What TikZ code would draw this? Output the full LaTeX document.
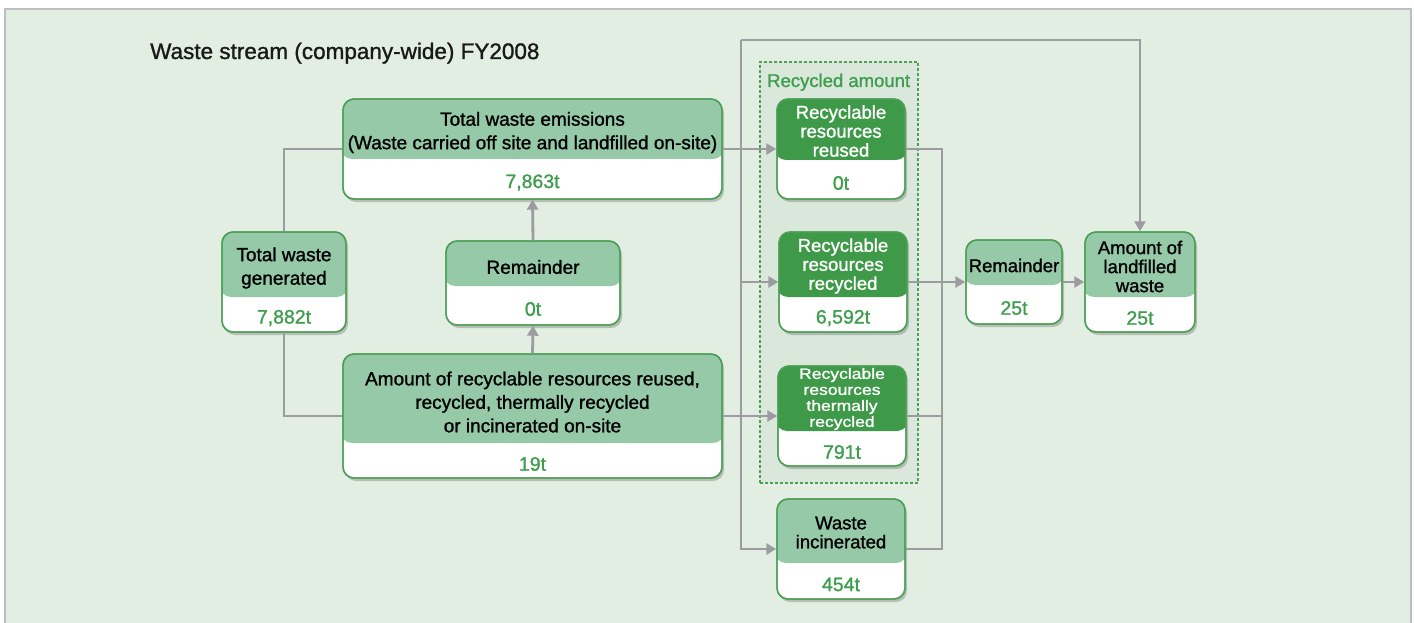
\documentclass[tikz,border=0pt]{standalone}
\usepackage{fontspec}
\setmainfont{Liberation Sans}[FakeBold=1.2]
\usetikzlibrary{shadows,arrows.meta,calc}
\definecolor{panelc}{HTML}{E1EEE1}
\definecolor{panelb}{HTML}{BDBDC4}
\definecolor{lightg}{HTML}{95C9A8}
\definecolor{darkg}{HTML}{3E9A48}
\definecolor{borderg}{HTML}{4C9F55}
\definecolor{valg}{HTML}{3F9E4D}
\definecolor{lineg}{HTML}{9C9CA0}
\definecolor{dashfill}{HTML}{D9E8DB}
\tikzset{
  fbox/.style={draw=borderg, line width=1.4pt, fill=white, rounded corners=11pt, inner sep=0pt,
    drop shadow={shadow xshift=2pt, shadow yshift=-3pt, opacity=0.35, fill=black!60}},
  hdr-light/.style={fill=lightg},
  hdr-dark/.style={fill=darkg},
  txt-light/.style={text=black},
  txt-dark/.style={text=white},
  valtxt/.style={text=valg, font=\fontsize{19.5}{22}\selectfont},
  conn/.style={draw=lineg, line width=2.8pt},
  arr/.style={conn, -{Triangle[length=10pt,width=11pt]}},
}
\newcommand\hfont{\fontsize{19}{23.5}\selectfont}
\newcommand\hshift{3.5}
% #1 name, #2 x, #3 y, #4 w, #5 h, #6 header height, #7 light/dark, #8 header text, #9 value
\newcommand\flowbox[9]{%
  \node[fbox, minimum width=#4pt, minimum height=#5pt,
    path picture={\fill[hdr-#7] ([yshift=2pt,xshift=-2pt]path picture bounding box.north west) rectangle ([yshift=-#6pt,xshift=2pt]path picture bounding box.north east);}]
    (#1) at (#2+#4/2, #3+#5/2) {};
  \draw[draw=borderg, line width=1.4pt, rounded corners=11pt] (#2,#3) rectangle (#2+#4,#3+#5);
  \node[txt-#7, align=center, font=\hfont, inner sep=0pt] (#1-h) at (#2+#4/2, #3+#6/2+\hshift) {#8};
  \node[valtxt, inner sep=0pt] (#1-v) at (#2+#4/2, #3+#6/2+#5/2+3.5) {#9};
}
\begin{document}
\begin{tikzpicture}[x=1pt,y=-1pt]
\useasboundingbox (0,0) rectangle (1414,623);
\fill[white] (0,0) rectangle (1414,623);
\filldraw[fill=panelc, draw=panelb, line width=1.3pt] (5,9) rectangle (1411,626);

\node[anchor=base west, font=\fontsize{22.5}{26}\selectfont, text=black!90, inner sep=0pt] (title) at (150,59) {Waste stream (company-wide) FY2008};

% recycled amount dashed box
\node[draw=borderg, fill=dashfill, dashed, dash pattern=on 3pt off 2pt, line width=1.1pt,
  minimum width=158pt, minimum height=421pt, inner sep=0pt] (recbox) at (839,272.5) {};
\node[anchor=base west, text=valg, font=\fontsize{18.5}{22}\selectfont, inner sep=0pt] (reclabel) at (767,87) {Recycled amount};

\flowbox{emis}{343}{99}{379}{100}{60}{light}{Total waste emissions\\(Waste carried off site and landfilled on-site)}{7,863t}
\flowbox{gen}{222}{232}{124}{100}{65}{light}{Total waste\\generated}{7,882t}
\flowbox{rem1}{446}{241}{174}{84}{45}{light}{Remainder}{0t}
\flowbox{amt}{343}{354}{379}{124}{89}{light}{Amount of recyclable resources reused,\\recycled, thermally recycled\\or incinerated on-site}{19t}
\renewcommand\hfont{\fontsize{18.5}{19}\selectfont}
\renewcommand\hshift{1.5}
\flowbox{reuse}{777}{99}{128}{100}{61}{dark}{Recyclable\\resources\\reused}{0t}
\flowbox{recyc}{779}{232}{128}{100}{65}{dark}{Recyclable\\resources\\recycled}{6,592t}
\flowbox{incin}{777}{499}{128}{100}{64}{light}{Waste\\incinerated}{454t}
\renewcommand\hshift{3}
\flowbox{rem2}{966}{240}{96}{84}{45}{light}{Remainder}{25t}
\renewcommand\hshift{2}
\flowbox{land}{1085}{232}{110}{100}{65}{light}{Amount of\\landfilled\\waste}{25t}
\renewcommand\hfont{\fontsize{15}{16}\selectfont}
\renewcommand\hshift{0.5}
\flowbox{therm}{778}{366}{128}{100}{65}{dark}{\scalebox{1.17}[1]{Recyclable}\\\scalebox{1.17}[1]{resources}\\\scalebox{1.17}[1]{thermally}\\\scalebox{1.17}[1]{recycled}}{791t}

% connectors
\coordinate (busL) at (741,40);
\coordinate (busR) at (942,149);
\draw[conn] (gen.north) |- (emis.west);
\draw[conn] (gen.south) |- (amt.west);
\draw[arr] (amt.north) -- (rem1.south);
\draw[arr] (rem1.north) -- (emis.south);
\draw[conn] (emis.east) -- (emis.east -| busL);
\draw[conn] (amt.east) -- (amt.east -| busL);
\draw[arr] (busL) |- (incin.west);
\draw[arr] (busL) -| (land.north);
\draw[arr] (reuse.west -| busL) -- (reuse.west);
\draw[arr] (recyc.west -| busL) -- (recyc.west);
\draw[arr] (therm.west -| busL) -- (therm.west);
\draw[conn] (reuse.east) -- (reuse.east -| busR) |- (incin.east);
\draw[conn] (therm.east) -- (therm.east -| busR);
\draw[arr] (recyc.east) -- (rem2.west);
\draw[arr] (rem2.east) -- (land.west);
\end{tikzpicture}
\end{document}
